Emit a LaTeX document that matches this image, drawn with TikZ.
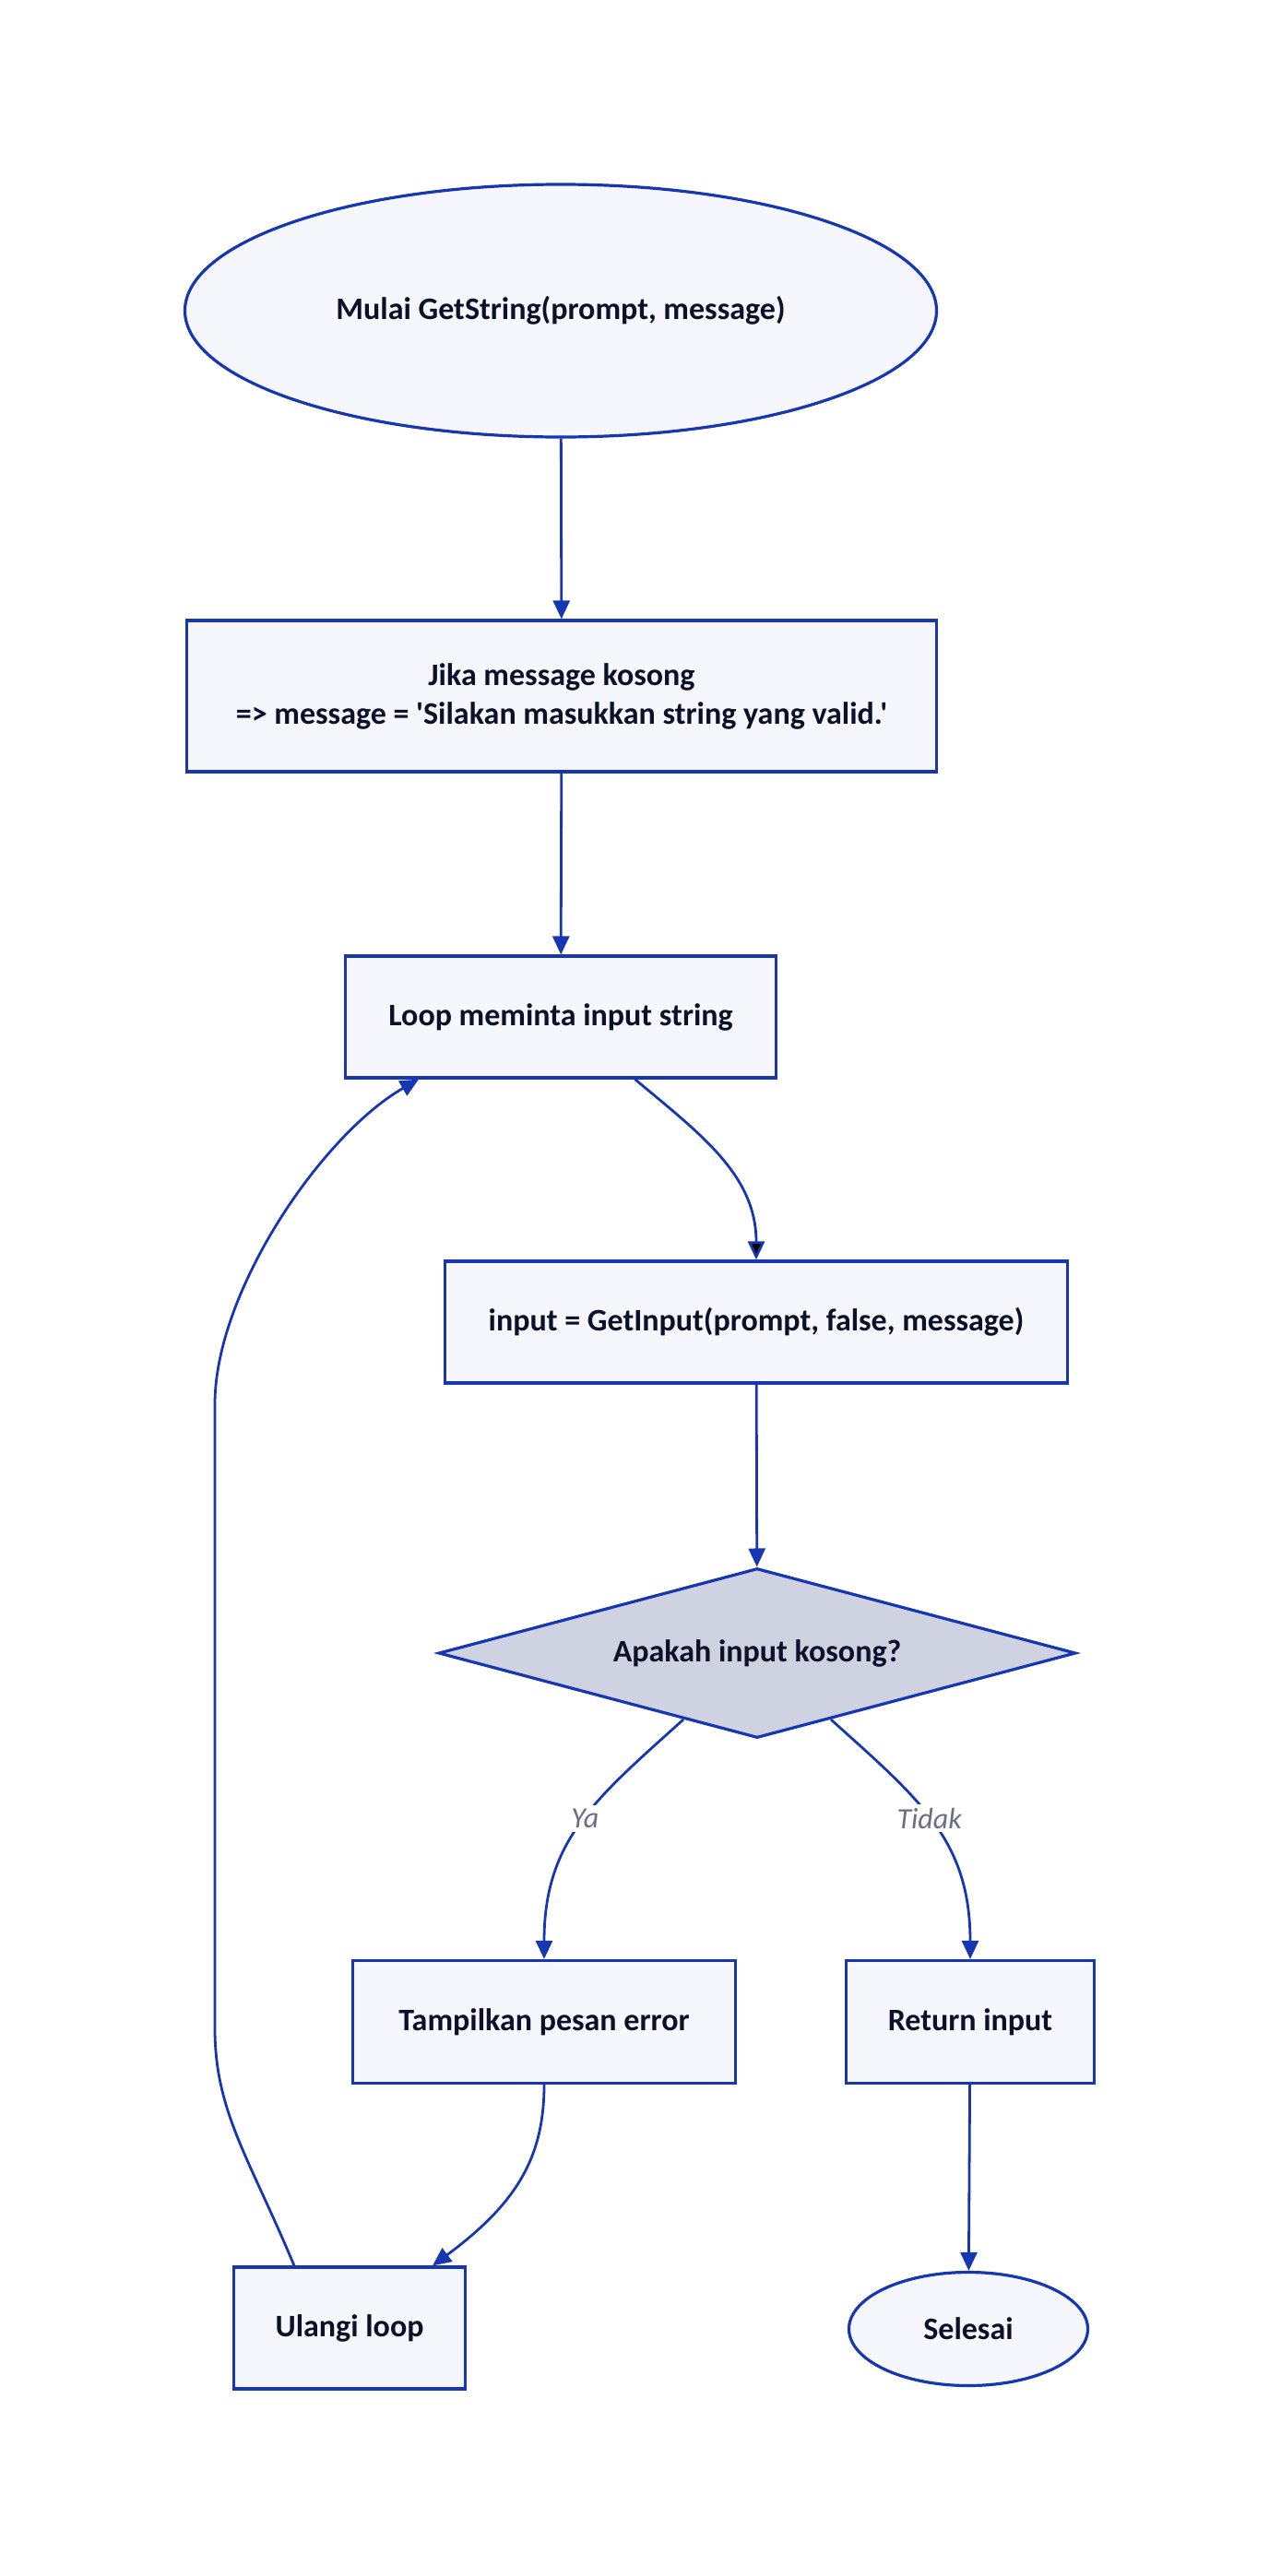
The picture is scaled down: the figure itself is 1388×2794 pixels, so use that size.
\documentclass[tikz,border=0pt]{standalone}
\usepackage{fontspec}
\newfontfamily\boxfont{Carlito}
\usetikzlibrary{shapes.geometric, arrows.meta}

\definecolor{lineblue}{RGB}{22,54,178}
\definecolor{boxfill}{RGB}{246,247,252}
\definecolor{decfill}{RGB}{207,210,224}
\definecolor{textdark}{RGB}{12,16,40}
\definecolor{labelgray}{RGB}{106,110,132}

\begin{document}
\begin{tikzpicture}[x=0.5pt, y=-0.5pt]

\tikzset{box/.style = {shape=rectangle, draw=lineblue, line width=1.6pt, fill=boxfill, text=textdark, font=\boxfont\bfseries\fontsize{17}{21}\selectfont, align=center, inner sep=0pt}}
\tikzset{oval/.style = {box, shape=ellipse}}
\tikzset{decision/.style = {box, shape=diamond, fill=decfill, aspect=3.75}}
\tikzset{edge/.style = {->, > = {Triangle[length=10pt, width=9pt]}, draw=lineblue, line width=1.4pt}}
\tikzset{lbl/.style = {fill=white, text=labelgray, font=\boxfont\itshape\fontsize{16}{19}\selectfont, inner sep=2pt}}

\useasboundingbox (0,0) rectangle (1388,2794);

% vertices
\node[oval, minimum width=407.5pt, minimum height=137pt] (start) at (608,337) {Mulai GetString(prompt, message)};
\node[box, minimum width=406.5pt, minimum height=82pt] (msg) at (609,755) {Jika message kosong\\=> message = 'Silakan masukkan string yang valid.'};
\node[box, minimum width=233.5pt, minimum height=66pt] (loop) at (608,1103) {Loop meminta input string};
\node[box, minimum width=337.5pt, minimum height=66pt] (input) at (820,1434) {input = GetInput(prompt, false, message)};
\node[decision, minimum width=345.5pt, minimum height=92pt] (empty) at (821,1793) {Apakah input kosong?};
\node[box, minimum width=207.5pt, minimum height=66.5pt] (err) at (590,2193) {Tampilkan pesan error};
\node[box, minimum width=134.5pt, minimum height=66.5pt] (ret) at (1052,2193) {Return input};
\node[box, minimum width=125.5pt, minimum height=66pt] (redo) at (379,2525) {Ulangi loop};
\node[oval, minimum width=129.5pt, minimum height=61.5pt] (done) at (1050,2526) {Selesai};

%edges
\draw[edge] (start) -- (msg);
\draw[edge] (msg) -- (loop);
\path[edge] (loop) edge[out=-40, in=90] (input);
\draw[edge] (input) -- (empty);
\draw[edge] (empty) to[out=-138, in=90, looseness=1.1] node[lbl, pos=0.47] {Ya} (err);
\draw[edge] (empty) to[out=-42, in=90, looseness=1.1] node[lbl, pos=0.47] {Tidak} (ret);
\draw[edge] (err.south) .. controls (590,2340) and (560,2390) .. ([xshift=45pt]redo.north);
\draw[edge] ([xshift=-30pt]redo.north) .. controls (270,2340) and (233,2290) .. (233,2200)
  -- (233,1523) .. controls (233,1400) and (350,1230) .. ([xshift=-77pt]loop.south);
\draw[edge] (ret) -- (done);

\end{tikzpicture}
\end{document}
